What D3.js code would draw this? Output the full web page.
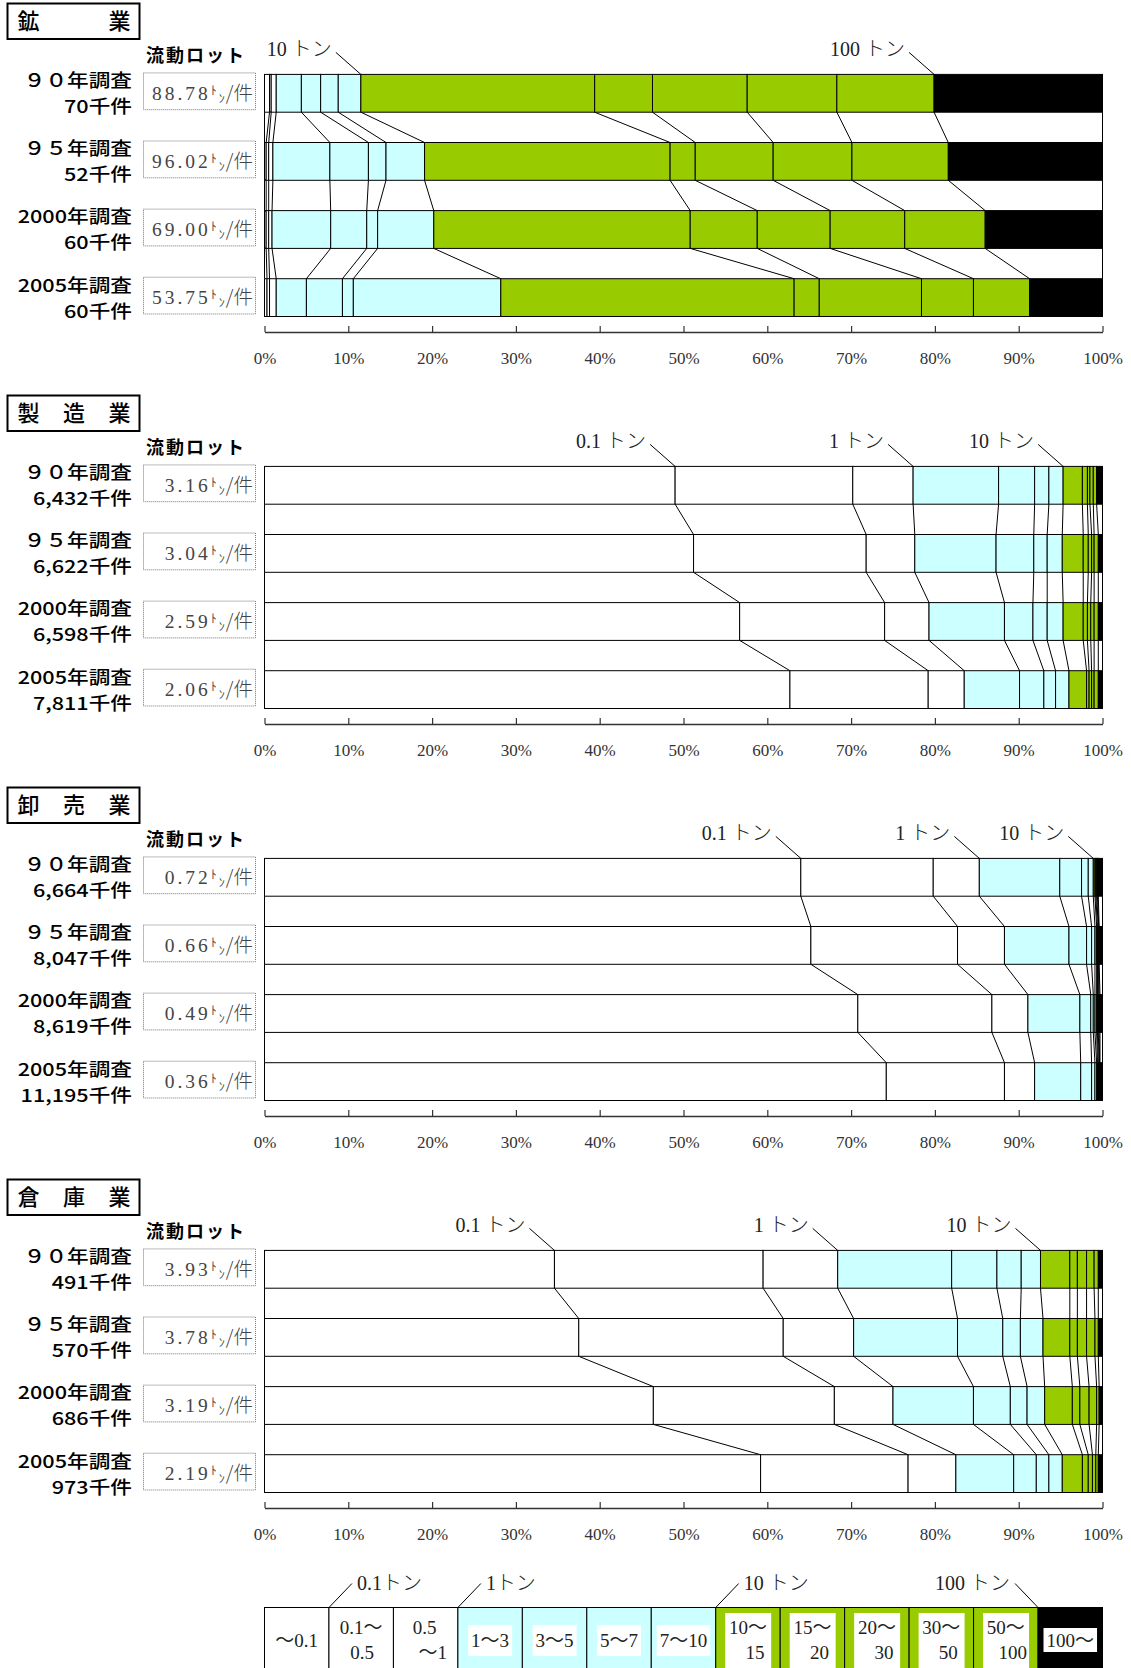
<!DOCTYPE html>
<html><head><meta charset="utf-8">
<script src="https://cdn.jsdelivr.net/npm/d3@7"></script>
<style>body{margin:0;background:#fff}svg{display:block}</style>
</head><body>
<svg id="chart" width="1131" height="1668"></svg>
<script>
// ---------- data ----------
const categories = ["～0.1","0.1～0.5","0.5～1","1～3","3～5","5～7","7～10","10～15","15～20","20～30","30～50","50～100","100～"];
const years = ["９０年調査","９５年調査","2000年調査","2005年調査"];
const industryNames = ["鉱業","製造業","卸売業","倉庫業"];
const tickValues = [0,10,20,30,40,50,60,70,80,90,100];

// shares (%) of shipments per lot-size class, per survey year
const miningShares = [
  [0.6,0.2,0.6,3.0,2.3,2.1,2.7,27.9,6.9,11.3,10.7,11.6,20.1],
  [0.2,0.3,0.5,6.8,4.6,2.1,4.6,29.3,3.0,9.3,9.4,11.5,18.4],
  [0.2,0.3,0.4,7.0,4.3,1.3,6.7,30.6,8.0,8.7,8.9,9.6,14.0],
  [0.3,0.3,0.8,3.6,4.3,1.3,17.6,35.0,3.0,12.2,6.2,6.7,8.7]
];
const manufacturingShares = [
  [49.0,21.2,7.2,10.2,4.3,1.7,1.7,2.3,0.6,0.3,0.4,0.4,0.7],
  [51.2,20.6,5.8,9.7,4.5,1.6,1.8,2.5,0.6,0.4,0.3,0.5,0.5],
  [56.7,17.3,5.3,9.0,3.4,1.7,1.9,2.4,0.5,0.4,0.4,0.5,0.5],
  [62.7,16.5,4.3,6.6,2.9,1.4,1.6,2.1,0.3,0.3,0.3,0.5,0.5]
];
const wholesaleShares = [
  [64.0,15.8,5.5,9.6,2.6,0.8,0.6,0.2,0.1,0.1,0.1,0.1,0.5],
  [65.2,17.5,5.6,7.7,2.1,0.6,0.4,0.2,0.1,0.1,0.05,0.05,0.4],
  [70.8,16.0,4.3,6.2,1.3,0.3,0.2,0.2,0.1,0.1,0.1,0.1,0.3],
  [74.2,14.1,3.6,5.5,1.3,0.4,0.2,0.1,0.1,0.1,0.05,0.05,0.3]
];
const warehouseShares = [
  [34.6,24.9,8.9,13.6,5.4,2.9,2.3,3.5,0.9,1.1,0.9,0.5,0.5],
  [37.5,24.4,8.4,12.4,5.4,2.1,2.7,3.2,0.9,1.1,1.0,0.4,0.5],
  [46.4,21.6,7.0,9.6,4.4,2.0,2.1,3.3,0.9,1.1,0.9,0.3,0.4],
  [59.2,17.6,5.7,6.9,2.7,1.5,1.6,2.4,0.7,0.5,0.4,0.3,0.5]
];
const miningLots = ["88.78","96.02","69.00","53.75"];
const manufacturingLots = ["3.16","3.04","2.59","2.06"];
const wholesaleLots = ["0.72","0.66","0.49","0.36"];
const warehouseLots = ["3.93","3.78","3.19","2.19"];
const miningCounts = ["70","52","60","60"];
const manufacturingCounts = ["6,432","6,622","6,598","7,811"];
const wholesaleCounts = ["6,664","8,047","8,619","11,195"];
const warehouseCounts = ["491","570","686","973"];

// boundary annotations (index into cumulative boundaries)
const miningMarks = [{i:7,label:"10"},{i:12,label:"100"}];
const otherMarks = [{i:1,label:"0.1"},{i:3,label:"1"},{i:7,label:"10"}];
const legendMarks = [{i:1,label:"0.1",dir:1},{i:3,label:"1",dir:1},{i:7,label:"10 ",dir:1},{i:12,label:"100 ",dir:-1}];
const legendLines = [["～0.1"],["0.1～","0.5"],["0.5","～1"],["1～3"],["3～5"],["5～7"],["7～10"],
  ["10～","15"],["15～","20"],["20～","30"],["30～","50"],["50～","100"],["100～"]];

// ---------- layout / style ----------
const X0 = 264.5, X1 = 1102.5;
const CYAN = "#ccffff", GREEN = "#99cc00";
const color = d3.scaleOrdinal().domain(categories).range(
  ["#fff","#fff","#fff",CYAN,CYAN,CYAN,CYAN,GREEN,GREEN,GREEN,GREEN,GREEN,"#000"]);
const GOTHIC = "'Noto Sans CJK JP','Noto Sans',sans-serif";
const SERIF = "'Liberation Serif','DejaVu Serif','Noto Sans CJK JP',serif";

const svg = d3.select("#chart");
const x = d3.scaleLinear().domain([0,100]).range([X0,X1]);

const sections = [
  {shares:miningShares, lots:miningLots, counts:miningCounts, marks:miningMarks, title:["鉱","","業"]},
  {shares:manufacturingShares, lots:manufacturingLots, counts:manufacturingCounts, marks:otherMarks, title:["製","造","業"]},
  {shares:wholesaleShares, lots:wholesaleLots, counts:wholesaleCounts, marks:otherMarks, title:["卸","売","業"]},
  {shares:warehouseShares, lots:warehouseLots, counts:warehouseCounts, marks:otherMarks, title:["倉","庫","業"]}
];

sections.forEach((sec, k) => {
  const T = 3 + k * 392;
  const g = svg.append("g");
  const y = d3.scaleBand().domain(years).range([T + 71.4, T + 71.4 + 242.1]).paddingInner(0.445).paddingOuter(0);
  const bh = y.bandwidth();
  const cums = sec.shares.map(s => [0, ...d3.cumsum(s)]);

  // title box
  g.append("rect").attr("x", 7.5).attr("y", T + 0.5).attr("width", 132).attr("height", 35.5)
    .attr("fill", "#fff").attr("stroke", "#000").attr("stroke-width", 2);
  sec.title.forEach((c, j) => {
    g.append("text").attr("x", 28.6 + j * 45.5).attr("y", T + 18).attr("dy", "0.36em")
      .attr("text-anchor", "middle").attr("font-family", GOTHIC).attr("font-size", 22)
      .attr("font-weight", 500).text(c);
  });

  // 流動ロット
  g.append("text").attr("x", 146).attr("y", T + 52.5).attr("dy", "0.36em")
    .attr("font-family", GOTHIC).attr("font-size", 18).attr("font-weight", 700)
    .attr("letter-spacing", 2).text("流動ロット");

  // connectors between bars
  for (let i = 0; i < years.length - 1; i++) {
    const a = cums[i], b = cums[i + 1];
    a.forEach((v, j) => {
      g.append("line")
        .attr("x1", x(Math.min(v, 100))).attr("y1", y(years[i]) + bh)
        .attr("x2", x(Math.min(b[j], 100))).attr("y2", y(years[i + 1]))
        .attr("stroke", "#000").attr("stroke-width", 1);
    });
  }

  // bars
  years.forEach((yr, i) => {
    const cum = cums[i];
    const yy = y(yr);
    categories.forEach((c, j) => {
      g.append("rect").attr("x", x(cum[j])).attr("y", yy)
        .attr("width", Math.max(0, x(Math.min(cum[j + 1], 100)) - x(cum[j])))
        .attr("height", bh).attr("fill", color(c))
        .attr("stroke", "#000").attr("stroke-width", 1);
    });

    // year / count labels (horizontally widened gothic, as in the original)
    const cy = yy + bh / 2;
    [[yr, cy - 12.5], [sec.counts[i] + "千件", cy + 13.5]].forEach(([s, ty]) => {
      g.append("text").attr("transform", `translate(132,${ty}) scale(1.21,1)`)
        .attr("dy", "0.36em").attr("text-anchor", "end").attr("font-family", GOTHIC)
        .attr("font-size", 17.9).attr("font-weight", 500).text(s);
    });

    // lot box
    g.append("rect").attr("x", 143.5).attr("y", yy - 1.5).attr("width", 112).attr("height", bh - 1)
      .attr("fill", "none").attr("stroke", "#777").attr("stroke-width", 1).attr("stroke-dasharray", "1,1");
    const t = g.append("text").attr("x", 253).attr("y", cy).attr("dy", "0.35em")
      .attr("text-anchor", "end").attr("font-family", SERIF).attr("font-size", 19.5).attr("fill", "#444");
    t.append("tspan").attr("letter-spacing", 3).text(sec.lots[i]);
    t.append("tspan").attr("font-size", 12).attr("dy", -5).attr("dx", 0).attr("font-family", GOTHIC).text("ﾄ");
    t.append("tspan").attr("font-size", 12).attr("dy", 8).attr("dx", 2).attr("font-family", GOTHIC).text("ﾝ");
    t.append("tspan").attr("dy", -3).attr("dx", 1).attr("font-family", GOTHIC).attr("font-weight", 300).text("/件");
  });

  // annotation marks on first bar
  const top = y(years[0]);
  sec.marks.forEach(m => {
    const bx = x(cums[0][m.i]);
    g.append("line").attr("x1", bx - 25).attr("y1", top - 22).attr("x2", bx).attr("y2", top)
      .attr("stroke", "#000").attr("stroke-width", 1);
    const t = g.append("text").attr("x", bx - 29).attr("y", top - 26).attr("dy", "0.36em")
      .attr("text-anchor", "end").attr("font-family", SERIF).attr("font-size", 20).attr("fill", "#222");
    t.append("tspan").text(m.label + " ");
    t.append("tspan").attr("font-family", GOTHIC).attr("font-weight", 300).text("トン");
  });

  // axis
  const ax = g.append("g").attr("transform", `translate(0,${T + 329})`)
    .call(d3.axisBottom(x).tickValues(tickValues).tickSizeInner(-6).tickSizeOuter(0)
      .tickPadding(20).tickFormat(d => d + "%"));
  ax.select(".domain").attr("stroke", "#333").attr("stroke-width", 1.5);
  ax.selectAll(".tick line").attr("stroke", "#333").attr("stroke-width", 1.2);
  ax.selectAll(".tick text").attr("font-family", SERIF).attr("font-size", 17).attr("fill", "#333");
});

// ---------- legend ----------
const lg = svg.append("g");
const lb = d3.scaleBand().domain(categories).range([X0, X1]);
const LT = 1607.5;
categories.forEach((c, j) => {
  const bx = lb(c), bw = lb.bandwidth(), cx = bx + bw / 2;
  lg.append("rect").attr("x", bx).attr("y", LT).attr("width", bw).attr("height", 90)
    .attr("fill", color(c)).attr("stroke", "#000").attr("stroke-width", 1);
  const isGreen = color(c) === GREEN, isBlack = color(c) === "#000", isCyan = color(c) === CYAN;
  if (isGreen) {
    lg.append("rect").attr("x", bx + 9.5).attr("y", LT + 5.5).attr("width", bw - 18.5).attr("height", 90)
      .attr("fill", "#fff");
  }
  const lines = legendLines[j];
  const texts = [];
  if (lines.length === 1) {
    texts.push(lg.append("text").attr("x", cx).attr("y", 1640).attr("dy", "0.36em").attr("text-anchor", "middle").text(lines[0]));
  } else {
    texts.push(lg.append("text").attr("x", cx - (j === 2 ? 1 : 0)).attr("y", 1627.5).attr("dy", "0.36em").attr("text-anchor", "middle").text(lines[0]));
    texts.push(lg.append("text").attr("x", cx + (j === 1 ? 1 : 7)).attr("y", 1652).attr("dy", "0.36em").attr("text-anchor", "middle").text(lines[1]));
  }
  texts.forEach(t => t.attr("font-family", SERIF).attr("font-size", 19).attr("fill", "#222"));
  if (isCyan || isBlack) {
    const bb = texts[0].node().getBBox();
    lg.insert("rect", () => texts[0].node())
      .attr("x", bb.x - 3).attr("y", isCyan ? 1625 : 1628).attr("width", bb.width + 6)
      .attr("height", isCyan ? 31 : 24).attr("fill", "#fff");
  }
});
legendMarks.forEach(m => {
  const bx = X0 + m.i * lb.step();
  const d = m.dir;
  lg.append("line").attr("x1", bx).attr("y1", LT).attr("x2", bx + d * 23).attr("y2", LT - 24)
    .attr("stroke", "#000").attr("stroke-width", 1);
  const t = lg.append("text").attr("x", bx + d * 28).attr("y", 1583).attr("dy", "0.36em")
    .attr("text-anchor", d > 0 ? "start" : "end").attr("font-family", SERIF).attr("font-size", 20).attr("fill", "#222");
  t.append("tspan").text(m.label);
  t.append("tspan").attr("font-family", GOTHIC).attr("font-weight", 300).text("トン");
});
</script>
</body></html>
